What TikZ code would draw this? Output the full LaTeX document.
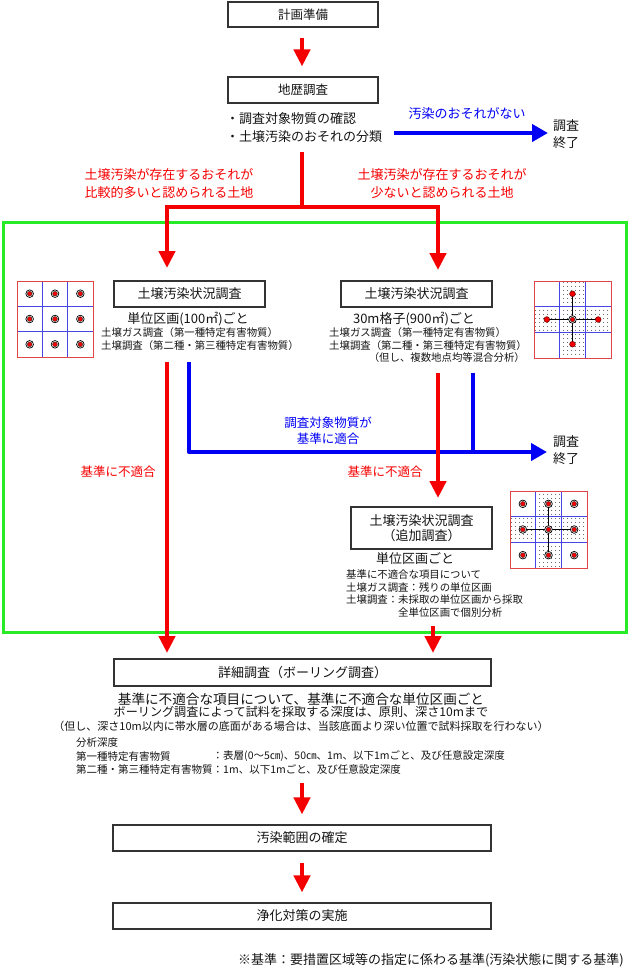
\documentclass[tikz,border=0pt]{standalone}
\usepackage{fontspec}
\setmainfont{Noto Sans CJK JP}
\usetikzlibrary{arrows.meta,patterns.meta,calc}
\newcommand\myfs[2]{\fontsize{#1pt}{#2pt}\selectfont}
\definecolor{cRed}{RGB}{245,0,0}
\definecolor{cBlue}{RGB}{0,0,245}
\definecolor{cGreen}{RGB}{40,235,40}
\definecolor{cGridRed}{RGB}{225,70,70}
\definecolor{cGridBlue}{RGB}{70,70,230}
\definecolor{cText}{RGB}{20,20,20}
\newcommand\ringdot[2]{%
  \filldraw[fill=white, draw=black, line width=0.7pt] (#1,#2) circle (3.8pt);
  \filldraw[fill=cRed, draw=black!80, line width=0.4pt] (#1,#2) circle (2.4pt);}
\newcommand\plaindot[2]{%
  \filldraw[fill=cRed, draw=black!70!red, line width=0.4pt] (#1,#2) circle (2.9pt);}
\newcommand\gridbg[3]{%
  \fill[white] (#1,#2) rectangle ({#1+#3},{#2+#3});}
\newcommand\gridcross[3]{%
  \fill[pattern={Dots[distance=4pt,radius=0.5pt]}, pattern color=black] ({#1+#3/3},#2) rectangle ({#1+2*#3/3},{#2+#3});
  \fill[pattern={Dots[distance=4pt,radius=0.5pt]}, pattern color=black] (#1,{#2+#3/3}) rectangle ({#1+#3/3},{#2+2*#3/3});
  \fill[pattern={Dots[distance=4pt,radius=0.5pt]}, pattern color=black] ({#1+2*#3/3},{#2+#3/3}) rectangle ({#1+#3},{#2+2*#3/3});}
\newcommand\gridlines[3]{%
  \draw[cGridBlue, line width=1pt] ({#1+#3/3},#2) -- ({#1+#3/3},{#2+#3}) ({#1+2*#3/3},#2) -- ({#1+2*#3/3},{#2+#3})
     (#1,{#2+#3/3}) -- ({#1+#3},{#2+#3/3}) (#1,{#2+2*#3/3}) -- ({#1+#3},{#2+2*#3/3});
  \draw[cGridRed, line width=1pt] (#1,#2) rectangle ({#1+#3},{#2+#3});}
\begin{document}
\begin{tikzpicture}[x=1pt,y=-1pt,
  box/.style={draw=black!80, line width=1.1pt, fill=white, inner sep=0pt, text=cText},
  txt/.style={inner sep=0pt, text=cText},
  redtxt/.style={inner sep=0pt, text=cRed},
  bluetxt/.style={inner sep=0pt, text=cBlue},
  redline/.style={draw=cRed, line width=4.5pt, line join=miter},
  redarrow/.style={redline, -{Triangle[width=16pt,length=17pt]}},
  blueline/.style={draw=cBlue, line width=4.5pt, line join=round},
  bluearrow/.style={blueline, -{Triangle[width=17pt,length=16pt]}},
  conn/.style={black, line width=0.8pt}
]
\useasboundingbox (0,0) rectangle (628,970);

% green frame
\draw[cGreen, line width=3pt] (3,222) rectangle (626,632);

% top
\node[box, minimum width=150pt, minimum height=25pt, font=\myfs{12.5}{15}] (plan) at (303,14.5) {計画準備};
\node[box, minimum width=150pt, minimum height=26pt, font=\myfs{12.5}{15}] (chireki) at (303,90) {地歴調査};
\draw[redarrow] ([yshift=-10pt]plan.south -| 302,0) -- ([yshift=10pt]chireki.north -| 302,0);

\node[txt, anchor=west, align=left, font=\myfs{13}{18}] (bullets) at (226,128) {・調査対象物質の確認\\・土壌汚染のおそれの分類};
\node[bluetxt, font=\myfs{13}{16}] (nokou) at (467,114) {汚染のおそれがない};
\node[txt, anchor=west, align=left, font=\myfs{13}{17}] (end1) at (553,134) {調査\\終了};
\coordinate (b1s) at (394,133);
\draw[bluearrow] (b1s) -- ([xshift=-5pt]end1.west |- b1s);

\coordinate (r0) at (302,152);
\coordinate (split) at (302,207);
\coordinate (tipL) at (167,268);
\coordinate (tipR) at (438,270);
\draw[redline] (r0) -- (split);
\draw[redarrow] (split) -| (tipL);
\draw[redarrow] (split) -| (tipR);
\node[redtxt, align=center, font=\myfs{13}{18}] (lblL) at (169,184) {土壌汚染が存在するおそれが\\比較的多いと認められる土地};
\node[redtxt, align=center, font=\myfs{13}{18}] (lblR) at (442,184) {土壌汚染が存在するおそれが\\少ないと認められる土地};

% left survey
\node[box, minimum width=151pt, minimum height=26pt, font=\myfs{13}{16}] (boxL) at (189.5,294) {土壌汚染状況調査};
\node[txt, font=\myfs{13}{16}] (unitL) at (188,319) {単位区画(100㎡)ごと};
\node[txt, anchor=west, font=\myfs{10.4}{12}] (gasL) at (101,333) {土壌ガス調査（第一種特定有害物質）};
\node[txt, anchor=west, font=\myfs{10.4}{12}] (soilL) at (101,346) {土壌調査（第二種・第三種特定有害物質）};

% right survey
\node[box, minimum width=151pt, minimum height=26pt, font=\myfs{13}{16}] (boxR) at (416.5,294) {土壌汚染状況調査};
\node[txt, font=\myfs{13}{16}] (unitR) at (414,319) {30m格子(900㎡)ごと};
\node[txt, anchor=west, font=\myfs{10.4}{12}] (gasR) at (329,333) {土壌ガス調査（第一種特定有害物質）};
\node[txt, anchor=west, font=\myfs{10.4}{12}] (soilR) at (329,345.5) {土壌調査（第二種・第三種特定有害物質）};
\node[txt, anchor=east, font=\myfs{10.4}{12}] (mixR) at (525,358) {（但し、複数地点均等混合分析）};

% grid A
\gridbg{17}{281}{76}
\gridlines{17}{281}{76}
\foreach \i in {0,1,2} \foreach \j in {0,1,2} {\ringdot{17+76/6+\i*76/3}{281+76/6+\j*76/3}}

% grid B
\gridbg{534}{281}{77}
\gridcross{534}{281}{77}
\gridlines{534}{281}{77}
\draw[conn] (572.5,293.8) -- (572.5,344.2) (546.8,319.5) -- (598.2,319.5);
\ringdot{572.5}{319.5}
\plaindot{572.5}{293.8}
\plaindot{572.5}{344.2}
\plaindot{546.8}{319.5}
\plaindot{598.2}{319.5}

% middle connectors
\coordinate (rL0) at (167,362);
\coordinate (tipL2) at (167,653);
\coordinate (bL0) at (189,362);
\coordinate (tipB) at (547,452);
\coordinate (bR0) at (473,373);
\coordinate (rR0) at (438,373);
\coordinate (tipR2) at (438,498);
\node[txt, anchor=west, align=left, font=\myfs{13}{17}] (end2) at (553,450) {調査\\終了};
\draw[bluearrow] (bL0) |- ([xshift=-6pt]end2.west |- tipB);
\draw[blueline] (bR0) -- (bR0 |- tipB);
\draw[redarrow] (rL0) -- (tipL2);
\draw[redarrow] (rR0) -- (tipR2);
\node[bluetxt, align=center, font=\myfs{12.5}{16}] (fit) at (328,431) {調査対象物質が\\基準に適合};
\node[redtxt, font=\myfs{12.5}{15}] (nfL) at (118,472) {基準に不適合};
\node[redtxt, font=\myfs{12.5}{15}] (nfR) at (385,472) {基準に不適合};

% additional survey
\node[box, minimum width=141pt, minimum height=42pt, align=center, font=\myfs{13}{15}] (boxAdd) at (421.5,528) {土壌汚染状況調査\\（追加調査）};
\node[txt, font=\myfs{13}{16}] (unitAdd) at (415,559) {単位区画ごと};
\node[txt, anchor=west, font=\myfs{10.4}{12}] (add1) at (346,575) {基準に不適合な項目について};
\node[txt, anchor=west, font=\myfs{10.4}{12}] (add2) at (346,587.5) {土壌ガス調査：残りの単位区画};
\node[txt, anchor=west, font=\myfs{10.4}{12}] (add3) at (346,600) {土壌調査：未採取の単位区画から採取};
\node[txt, anchor=west, font=\myfs{10.4}{12}] (add4) at (398,612.5) {全単位区画で個別分析};

% grid C
\gridbg{510}{491}{77}
\gridcross{510}{491}{77}
\gridlines{510}{491}{77}
\draw[conn] (548.5,503.8) -- (548.5,554.2) (522.8,529.5) -- (574.2,529.5);
\foreach \i in {0,1,2} \foreach \j in {0,1,2} {\ringdot{510+77/6+\i*77/3}{491+77/6+\j*77/3}}

\coordinate (r3s) at (433,626);
\coordinate (tipR3) at (433,653);
\draw[redarrow] (r3s) -- (tipR3);

% detailed survey
\node[box, minimum width=377pt, minimum height=27pt, font=\myfs{13}{16}] (detail) at (302.5,672.5) {詳細調査（ボーリング調査）};
\node[txt, font=\myfs{13.6}{16}] (det1) at (301,699) {基準に不適合な項目について、基準に不適合な単位区画ごと};
\node[txt, font=\myfs{12.1}{14}] (det2) at (301,712) {ボーリング調査によって試料を採取する深度は、原則、深さ10mまで};
\node[txt, font=\myfs{11}{13}] (det3) at (301,726) {（但し、深さ10m以内に帯水層の底面がある場合は、当該底面より深い位置で試料採取を行わない）};
\node[txt, anchor=west, font=\myfs{10.5}{12}] (dep0) at (76,743) {分析深度};
\node[txt, anchor=west, font=\myfs{10.5}{12}] (dep1) at (76,756) {第一種特定有害物質};
\node[txt, anchor=west, font=\myfs{10.5}{12}] (dep1b) at (212.5,756) {：表層(0〜5㎝)、50㎝、1m、以下1mごと、及び任意設定深度};
\node[txt, anchor=west, font=\myfs{10.5}{12}] (dep2) at (76,769) {第二種・第三種特定有害物質：1m、以下1mごと、及び任意設定深度};

% final steps
\node[box, minimum width=378pt, minimum height=26pt, font=\myfs{13}{16}] (range) at (302,838) {汚染範囲の確定};
\node[box, minimum width=378pt, minimum height=26pt, font=\myfs{13}{16}] (clean) at (302,916) {浄化対策の実施};
\coordinate (a3s) at (302,783);
\draw[redarrow] (a3s) -- ([yshift=10pt]range.north);
\draw[redarrow] ([yshift=-11pt]range.south) -- ([yshift=10pt]clean.north);

\node[txt, anchor=east, font=\myfs{13}{16}] (note) at (624,960) {※基準：要措置区域等の指定に係わる基準(汚染状態に関する基準)};
\end{tikzpicture}
\end{document}
